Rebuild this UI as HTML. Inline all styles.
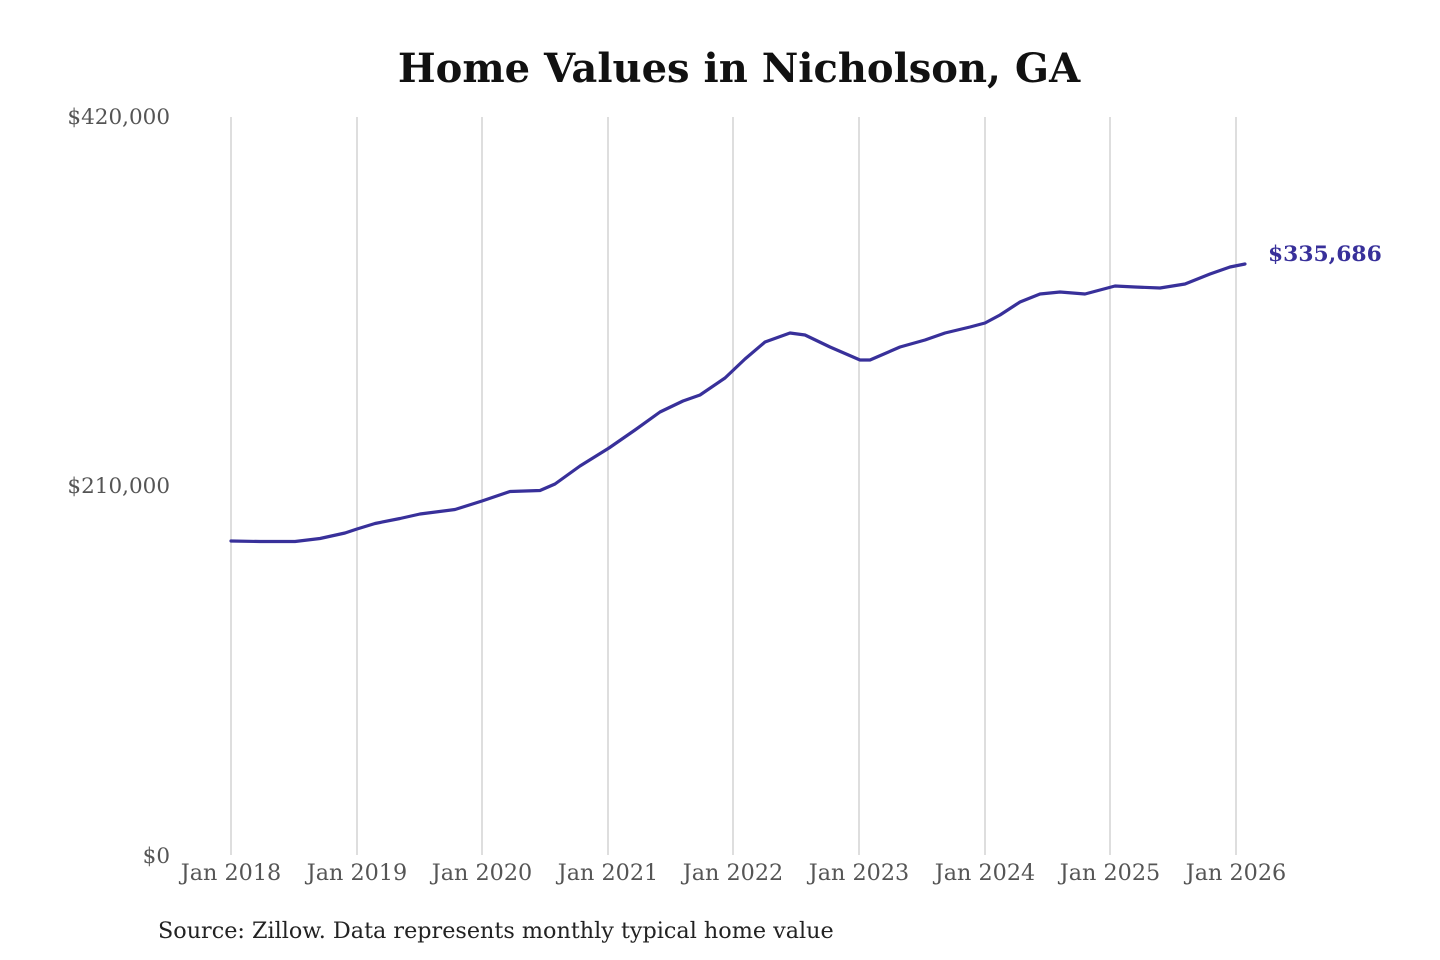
<!DOCTYPE html>
<html><head><meta charset="utf-8"><style>
html,body{margin:0;padding:0;background:#fff;width:1440px;height:960px;overflow:hidden}
svg{display:block}
text{font-family:"DejaVu Serif","Liberation Serif",serif}
</style></head><body>
<svg width="1440" height="960" viewBox="0 0 1440 960">
<text x="739" y="82" text-anchor="middle" font-size="40" font-weight="bold" fill="#111">Home Values in Nicholson, GA</text>
<g stroke="#c8c8c8" stroke-width="1.2">
<line x1="231" y1="117" x2="231" y2="855"/><line x1="357" y1="117" x2="357" y2="855"/>
<line x1="482" y1="117" x2="482" y2="855"/><line x1="608" y1="117" x2="608" y2="855"/>
<line x1="733" y1="117" x2="733" y2="855"/><line x1="859" y1="117" x2="859" y2="855"/>
<line x1="985" y1="117" x2="985" y2="855"/><line x1="1110" y1="117" x2="1110" y2="855"/>
<line x1="1236" y1="117" x2="1236" y2="855"/>
</g>
<g font-size="21.5" fill="#555" text-anchor="end">
<text x="170" y="124">$420,000</text>
<text x="170" y="493">$210,000</text>
<text x="170" y="863">$0</text>
</g>
<g font-size="22.3" fill="#555" text-anchor="middle">
<text x="231" y="880">Jan 2018</text><text x="357" y="880">Jan 2019</text>
<text x="482" y="880">Jan 2020</text><text x="608" y="880">Jan 2021</text>
<text x="733" y="880">Jan 2022</text><text x="859" y="880">Jan 2023</text>
<text x="985" y="880">Jan 2024</text><text x="1110" y="880">Jan 2025</text>
<text x="1236" y="880">Jan 2026</text>
</g>
<polyline fill="none" stroke="#38309a" stroke-width="3.2" stroke-linejoin="round" stroke-linecap="round" points="231,541 260,541.5 295,541.5 320,538.5 345,533 357,529 375,523.5 400,518.5 420,514 455,509.5 482,501 510,491.5 540,490.5 555,484 580,466 609,448 635,430 660,412 683,401 700,395 725,378 745,359 765,342 790,333 805,335 830,347 860,360 870,360 900,347 925,340 945,333 970,327 985,323 1000,315 1020,302 1040,294 1060,292 1085,294 1100,290 1115,286 1135,287 1160,288 1185,284 1210,274 1230,267 1245,264"/>
<text x="1268" y="261" font-size="21.8" font-weight="bold" fill="#38309a">$335,686</text>
<text x="158" y="938" font-size="22.3" fill="#222">Source: Zillow. Data represents monthly typical home value</text>
</svg>
</body></html>
